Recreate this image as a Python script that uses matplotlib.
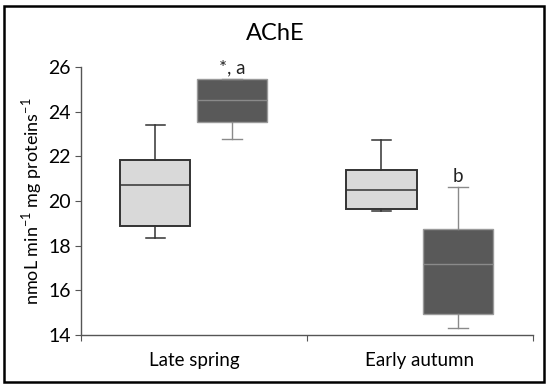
import matplotlib
matplotlib.use("Agg")
import matplotlib.pyplot as plt
from matplotlib.patches import Rectangle

plt.rcParams['font.family'] = ['Lato', 'DejaVu Sans']
plt.rcParams['mathtext.fontset'] = 'custom'
plt.rcParams['mathtext.rm'] = 'Lato'

categories = ["Late spring", "Early autumn"]
# light series (first box of each pair)
light_min = [18.35, 19.54]
light_q1 = [18.9, 19.64]
light_med = [20.7, 20.49]
light_q3 = [21.84, 21.37]
light_max = [23.4, 22.73]
# dark series (second box of each pair)
dark_min = [22.76, 14.33]
dark_q1 = [23.52, 14.94]
dark_med = [24.52, 17.17]
dark_q3 = [25.48, 18.76]
dark_max = [25.48, 20.61]
annotations = ["*, a", "b"]

fig = plt.figure(figsize=(5.5, 3.88), dpi=100)
ax = fig.add_axes([0.147, 0.1366, 0.822, 0.6906])

def stats(mn, q1, med, q3, mx):
    return [dict(whislo=a, q1=b, med=c, q3=d, whishi=e, fliers=[])
            for a, b, c, d, e in zip(mn, q1, med, q3, mx)]

centers = [0.5 + i for i in range(len(categories))]
off = 0.17
w = 0.31
light_pos = [c - off for c in centers]
dark_pos = [c + off for c in centers]

ax.bxp(stats(light_min, light_q1, light_med, light_q3, light_max),
       positions=light_pos, widths=w, patch_artist=True, showfliers=False,
       boxprops=dict(facecolor='#d9d9d9', edgecolor='#333333', linewidth=1.4),
       medianprops=dict(color='#333333', linewidth=1.1),
       whiskerprops=dict(color='#333333', linewidth=1.1),
       capprops=dict(color='#333333', linewidth=1.1), capwidths=0.088)
ax.bxp(stats(dark_min, dark_q1, dark_med, dark_q3, dark_max),
       positions=dark_pos, widths=w, patch_artist=True, showfliers=False,
       boxprops=dict(facecolor='#595959', edgecolor='#9a9a9a', linewidth=1.0),
       medianprops=dict(color='#8a8a8a', linewidth=1.0),
       whiskerprops=dict(color='#8a8a8a', linewidth=1.0),
       capprops=dict(color='#8a8a8a', linewidth=1.0), capwidths=0.088)

for p, top, txt in zip(dark_pos, dark_max, annotations):
    ax.text(p, top + 0.12, txt, ha='center', va='bottom', fontsize=13.5, color='#222222')

ax.set_xlim(0, 2)
ax.set_ylim(14, 26)
ax.set_yticks([14, 16, 18, 20, 22, 24, 26])
ax.set_xticks([0, 1, 2])
ax.set_xticklabels([])
ax.set_xticks(centers, minor=True)
ax.set_xticklabels(categories, minor=True, fontsize=13.5)
ax.tick_params(axis='x', which='minor', length=0, pad=12)
ax.tick_params(axis='x', which='major', length=4, color='#555555', direction='out')
ax.tick_params(axis='y', length=4, color='#555555', labelsize=14, pad=3)
for s in ['top', 'right']:
    ax.spines[s].set_visible(False)
for s in ['left', 'bottom']:
    ax.spines[s].set_color('#555555')
    ax.spines[s].set_linewidth(1.0)

ax.set_ylabel(r"nmoL min$^{\mathrm{-1}}$ mg proteins$^{\mathrm{-1}}$", fontsize=13, labelpad=3)
fig.text(275/550, 1 - 34/388, "AChE", fontsize=17, ha='center', va='center')

fig.patches.append(Rectangle((4/550, 6/388), 540/550, 376/388, transform=fig.transFigure,
                             fill=False, edgecolor='black', linewidth=1.8))

fig.savefig("out.png", dpi=100)
